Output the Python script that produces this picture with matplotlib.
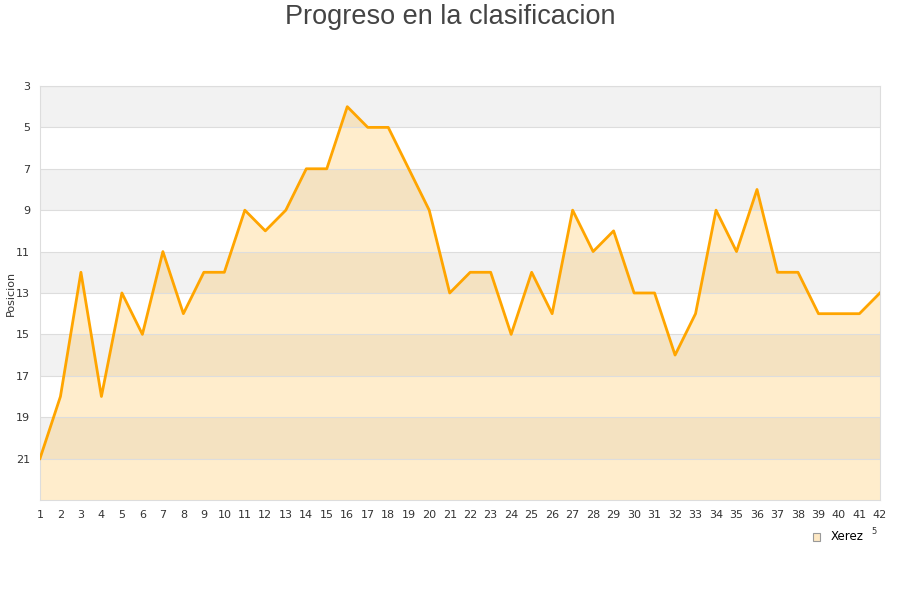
import numpy as np
import matplotlib.pyplot as plt

# Data
jornadas = list(range(1, 43))
posicion = [21, 18, 12, 18, 13, 15, 11, 14, 12, 12,
            9, 10, 9, 7, 7, 4, 5, 5, 7, 9,
            13, 12, 12, 15, 12, 14, 9, 11, 10, 13,
            13, 16, 14, 9, 11, 8, 12, 12, 14, 14,
            14, 13]
y_ticks = [3, 5, 7, 9, 11, 13, 15, 17, 19, 21]
equipo = "Xerez"

fig = plt.figure(figsize=(9, 6), dpi=100)
ax = fig.add_axes([0.0444, 0.1667, 0.9333, 0.69])

# alternating background bands
for i, y0 in enumerate(range(3, 23, 2)):
    if i % 2 == 0:
        ax.axhspan(y0, y0 + 2, color='#f2f2f2', lw=0, zorder=0)

ax.fill_between(jornadas, posicion, 23, color='#ffa500', alpha=0.2, lw=0, zorder=2)
ax.plot(jornadas, posicion, color='#ffa500', lw=2, zorder=3)

ax.set_xlim(1, 42)
ax.set_ylim(23, 3)
ax.set_xticks(jornadas)
ax.set_yticks(y_ticks)
ax.tick_params(length=0, labelsize=8, colors='#333333', pad=7)
ax.grid(axis='y', color='#dddddd', lw=0.8, zorder=1)
ax.set_axisbelow(False)
for s in ax.spines.values():
    s.set_color('#dddddd')

ax.set_ylabel("Posicion", fontsize=8, color='#333333')
ax.yaxis.set_label_coords(-0.029, 0.5)
fig.text(0.5, 0.972, "Progreso en la clasificacion", ha='center', va='center',
         fontsize=19.5, color='#444444', family='Liberation Sans')

# legend
fig.patches.append(plt.Rectangle((0.903, 0.099), 0.008, 0.012, transform=fig.transFigure,
                                 facecolor='#fde8c4', edgecolor='#999999', lw=0.8))
fig.text(0.923, 0.106, equipo, fontsize=8.5, va='center', color='#000000')
fig.text(0.968, 0.115, "5", fontsize=6, va='center', color='#333333')

fig.savefig("out.png", dpi=100)
